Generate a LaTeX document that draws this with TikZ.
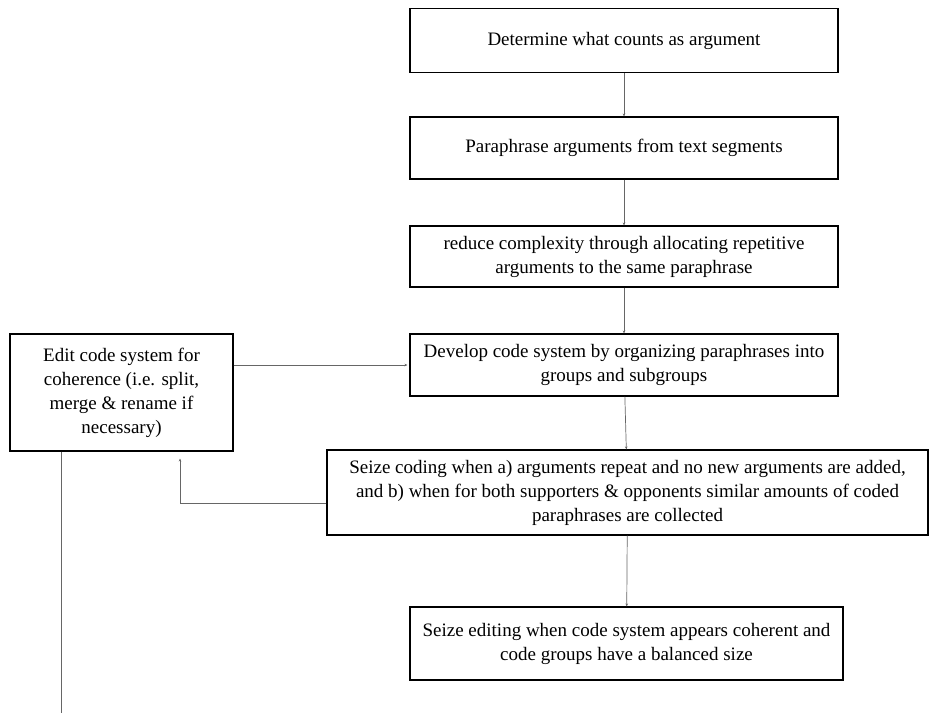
\documentclass[tikz,border=0pt]{standalone}
\usepackage{fontspec}
\setmainfont{Liberation Serif}
\usepackage{tikz}
\usetikzlibrary{arrows.meta}

\begin{document}
\begin{tikzpicture}[
    x=1pt, y=1pt,
    % Style of the boxes and of the connectors
    box/.style={rectangle, draw, line width=1.1pt, align=center, inner sep=0pt,
      font=\fontsize{19}{24}\selectfont},
    arr/.style={draw=black!60, line width=0.7pt, -{Stealth[length=3pt,width=2.5pt]}}
  ]
  \useasboundingbox (0,0) rectangle (931,-713);

  % 1. The main column of steps
  \node[box, minimum width=428, minimum height=64] (count) at (624,-40.5) {Determine what counts as argument};
  \node[box, minimum width=428, minimum height=62] (para) at (624,-148) {Paraphrase arguments from text segments};
  \node[box, minimum width=428, minimum height=61] (reduce) at (624,-256.5) {reduce complexity through allocating repetitive\\arguments to the same paraphrase};
  \node[box, minimum width=428, minimum height=62] (develop) at (624,-365) {Develop code system by organizing paraphrases into\\groups and subgroups};
  \node[box, minimum width=601, minimum height=85] (coding) at (627.5,-492.5) {Seize coding when a) arguments repeat and no new arguments are added,\\and b) when for both supporters \& opponents similar amounts of coded\\paraphrases are collected};
  \node[box, minimum width=433, minimum height=73] (editing) at (626.5,-643.5) {Seize editing when code system appears coherent and\\code groups have a balanced size};

  % 2. The editing box on the left
  \node[box, minimum width=223, minimum height=117] (edit) at (121.5,-392.5) {Edit code system for\\coherence (i.e. split,\\merge \& rename if\\necessary)};

  % helper points for the bent and loose lines
  \coordinate (bend) at (180,-503);
  \coordinate (down) at (61,-713);

  % 3. Connections
  \draw[arr] (count) -- (para);
  \draw[arr] (para) -- (reduce);
  \draw[arr] (reduce) -- (develop);
  \draw[arr] (develop) -- (coding);
  \draw[arr] (coding) -- (editing);

  % back to the editing box and on to the code system
  \draw[arr, shorten >=7pt] (coding.west |- bend) -- (bend) -- (bend |- edit.south);
  \draw[arr, shorten >=2pt] (edit.east |- develop.west) -- (develop.west);
  \draw[draw=black!60, line width=0.7pt] (edit.south -| down) -- (down);

\end{tikzpicture}
\end{document}
